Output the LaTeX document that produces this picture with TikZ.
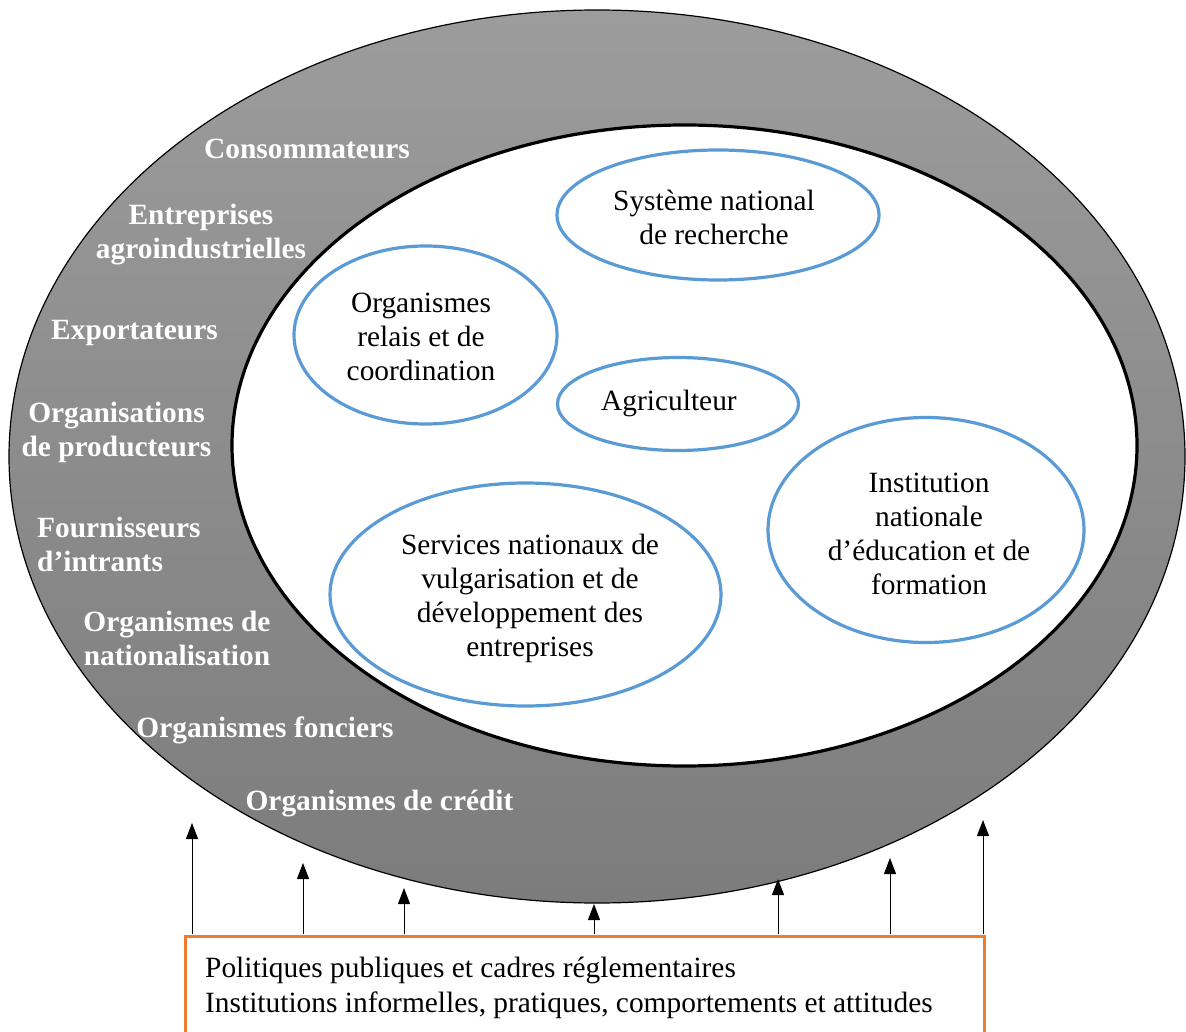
\documentclass[tikz,border=0pt]{standalone}
\usepackage{fontspec}
\setmainfont{Liberation Serif}
\usetikzlibrary{shapes.geometric,arrows.meta}
\definecolor{ringtop}{RGB}{156,156,156}
\definecolor{ringbot}{RGB}{124,124,124}
\definecolor{blueline}{RGB}{91,155,213}
\definecolor{orangeline}{RGB}{237,125,49}
\begin{document}
\begin{tikzpicture}[x=1pt,y=-1pt,
  txt/.style={font=\fontsize{29.4}{34}\selectfont, align=center, inner sep=0pt},
  ringlabel/.style={txt, text=white, font=\fontsize{29.4}{34}\selectfont\bfseries},
  actor/.style={ellipse, draw=blueline, line width=3.2pt, inner sep=0pt},
  arr/.style={line width=1pt, -{Triangle[width=12pt,length=16pt]}}]
\useasboundingbox (0,0) rectangle (1186,1032);
% rings
\node[ellipse, draw=black, line width=1.2pt, top color=ringtop, bottom color=ringbot,
      minimum width=1176pt, minimum height=893pt, inner sep=0pt] (outer) at (597,456.5) {};
\node[ellipse, draw=black, line width=3.2pt, fill=white,
      minimum width=905pt, minimum height=641pt, inner sep=0pt] (inner) at (684.5,445.5) {};
% actors
\node[actor, minimum width=322pt, minimum height=130pt] (rech) at (718,215) {};
\node[txt] (rech-t) at (714,217) {Système national\\de recherche};
\node[actor, minimum width=263pt, minimum height=178pt] (relais) at (425.5,335) {};
\node[txt] (relais-t) at (421,337) {Organismes\\relais et de\\coordination};
\node[actor, minimum width=241pt, minimum height=93pt] (agri) at (678,404) {};
\node[txt] (agri-t) at (669,403) {Agriculteur};
\node[actor, minimum width=391pt, minimum height=223pt] (vulg) at (525.5,594.5) {};
\node[txt] (vulg-t) at (530,598) {Services nationaux de\\vulgarisation et de\\développement des\\entreprises};
\node[actor, minimum width=316pt, minimum height=225pt] (educ) at (926,530) {};
\node[txt] (educ-t) at (929,534) {Institution\\nationale\\d’éducation et de\\formation};
% ring labels
\node[ringlabel] (l1) at (307,149) {Consommateurs};
\node[ringlabel] (l2) at (201,235) {Entreprises\\agroindustrielles};
\node[ringlabel] (l3) at (134.5,333) {Exportateurs};
\node[ringlabel] (l4) at (116.5,432) {Organisations\\de producteurs};
\node[ringlabel, align=left, anchor=west] (l5) at (37,544) {Fournisseurs\\d’intrants};
\node[ringlabel] (l6) at (177,638.5) {Organismes de\\nationalisation};
\node[ringlabel] (l7) at (265,730) {Organismes fonciers};
\node[ringlabel] (l8) at (379.5,804) {Organismes de crédit};
% policy box
\node[draw=orangeline, line width=3pt, minimum width=799pt, minimum height=120pt,
      anchor=north west, inner sep=0pt] (policy) at (184,935) {};
\node[txt, align=left, anchor=west] (pol1) at (205,970) {Politiques publiques et cadres réglementaires};
\node[txt, align=left, anchor=west] (pol2) at (205,1005) {Institutions informelles, pratiques, comportements et attitudes};
% arrows
\foreach \x/\y [count=\i] in {192/823, 303/863, 404/888, 594/904, 778/879, 890/858, 983/820}{
  \coordinate (s\i) at (\x,934);
  \coordinate (t\i) at (\x,\y);
  \draw[arr] (s\i) -- (t\i);
}
\end{tikzpicture}
\end{document}
